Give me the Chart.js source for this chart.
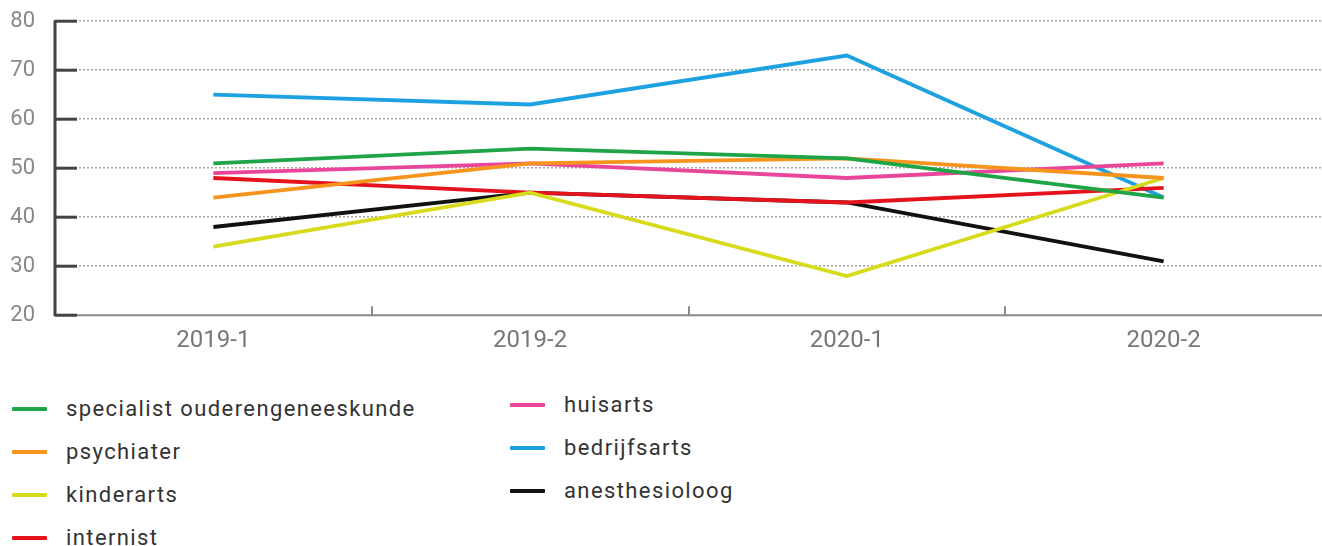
<!DOCTYPE html>
<html>
<head>
<meta charset="utf-8">
<script src="https://cdn.jsdelivr.net/npm/chart.js@4.4.0/dist/chart.umd.min.js"></script>
<style>
  html, body { margin: 0; padding: 0; background: #fff; }
  body { width: 1322px; height: 546px; position: relative; overflow: hidden; font-family: Roboto, sans-serif; }
  #chartBox { position: absolute; left: 0; top: -12px; width: 1322px; height: 370px; }
  #legend {
    position: absolute; left: 12px; top: 387px;
    display: grid; grid-template-columns: 498px 400px; grid-template-rows: repeat(4, 43px);
    grid-auto-flow: column;
  }
  .legend-item { display: flex; align-items: center; height: 43px; color: #333; font-size: 22px; letter-spacing: 1.4px; }
  .legend-item:nth-child(n+5) { margin-top: -4px; }
  .legend-swatch { width: 35px; height: 4px; margin-right: 19px; border-radius: 1px; }
</style>
</head>
<body>
<div id="chartBox"><canvas id="chart"></canvas></div>
<div id="legend"></div>
<script>
// Periods on the x axis
const periods = ['2019-1', '2019-2', '2020-1', '2020-2'];

// Specialisms (legend order)
const specialisms = [
  'specialist ouderengeneeskunde',
  'psychiater',
  'kinderarts',
  'internist',
  'huisarts',
  'bedrijfsarts',
  'anesthesioloog'
];

// Values
const ouderengeneeskunde = [51, 54, 52, 44];
const psychiater = [44, 51, 52, 48];
const kinderarts = [34, 45, 28, 48];
const internist = [48, 45, 43, 46];
const huisarts = [49, 51, 48, 51];
const bedrijfsarts = [65, 63, 73, 44];
const anesthesioloog = [38, 45, 43, 31];

const seriesValues = [ouderengeneeskunde, psychiater, kinderarts, internist, huisarts, bedrijfsarts, anesthesioloog];
const seriesColors = ['#1fa447', '#f7941d', '#d6dc1c', '#e5131d', '#e9469b', '#1ea1e0', '#111111'];

// y axis tick labels
const yTicks = [20, 30, 40, 50, 60, 70, 80];

// solid y axis + short tick marks drawn inside the plot, like the original
const innerTicks = {
  id: 'innerTicks',
  afterDraw(chart) {
    const { ctx, chartArea, scales: { x, y } } = chart;
    ctx.save();
    ctx.setLineDash([]);
    ctx.strokeStyle = '#8a8a8a';
    ctx.lineWidth = 2;
    ctx.beginPath();
    ctx.moveTo(chartArea.left, chartArea.bottom);
    ctx.lineTo(chartArea.right, chartArea.bottom);
    ctx.stroke();
    for (let i = 1; i < x.ticks.length; i++) {
      const px = Math.round((x.getPixelForTick(i - 1) + x.getPixelForTick(i)) / 2);
      ctx.beginPath();
      ctx.moveTo(px, chartArea.bottom);
      ctx.lineTo(px, chartArea.bottom - 9);
      ctx.stroke();
    }
    ctx.strokeStyle = '#444';
    ctx.lineWidth = 3;
    ctx.beginPath();
    ctx.moveTo(chartArea.left, chartArea.top - 1);
    ctx.lineTo(chartArea.left, chartArea.bottom + 1);
    ctx.stroke();
    y.ticks.forEach((t, i) => {
      const py = y.getPixelForTick(i);
      ctx.beginPath();
      ctx.moveTo(chartArea.left, py);
      ctx.lineTo(chartArea.left + 22, py);
      ctx.stroke();
    });
    ctx.restore();
  }
};

const ctx = document.getElementById('chart').getContext('2d');
new Chart(ctx, {
  type: 'line',
  data: {
    labels: periods,
    datasets: specialisms.map((name, i) => ({
      label: name,
      data: seriesValues[i],
      borderColor: seriesColors[i],
      backgroundColor: seriesColors[i],
      borderWidth: 3.8,
      pointRadius: 0,
      tension: 0,
      fill: false
    }))
  },
  options: {
    responsive: true,
    maintainAspectRatio: false,
    animation: false,
    layout: { padding: { top: 9, right: 0, bottom: 0, left: 0 } },
    plugins: {
      legend: { display: false },
      tooltip: { enabled: false }
    },
    scales: {
      x: {
        offset: true,
        grid: { display: false },
        border: { display: false },
        ticks: {
          color: '#777',
          padding: 3,
          font: { family: 'Roboto', size: 24 }
        }
      },
      y: {
        min: 20,
        max: 80,
        afterFit(scale) { scale.width = 55; },
        afterBuildTicks(scale) { scale.ticks = yTicks.map(v => ({ value: v })); },
        grid: {
          drawTicks: false,
          color: (c) => c.tick && c.tick.value === 20 ? 'rgba(0,0,0,0)' : '#a5a5a5',
          lineWidth: 1.5
        },
        border: { display: false, dash: [2, 2] },
        ticks: {
          color: '#888',
          padding: 20,
          font: { family: 'Roboto', size: 22 }
        }
      }
    }
  },
  plugins: [innerTicks]
});

// legend built from the same arrays
const legendEl = document.getElementById('legend');
specialisms.forEach((name, i) => {
  const item = document.createElement('div');
  item.className = 'legend-item';
  item.innerHTML = `<div class="legend-swatch" style="background:${seriesColors[i]}"></div><span>${name}</span>`;
  legendEl.appendChild(item);
});
</script>
</body>
</html>
